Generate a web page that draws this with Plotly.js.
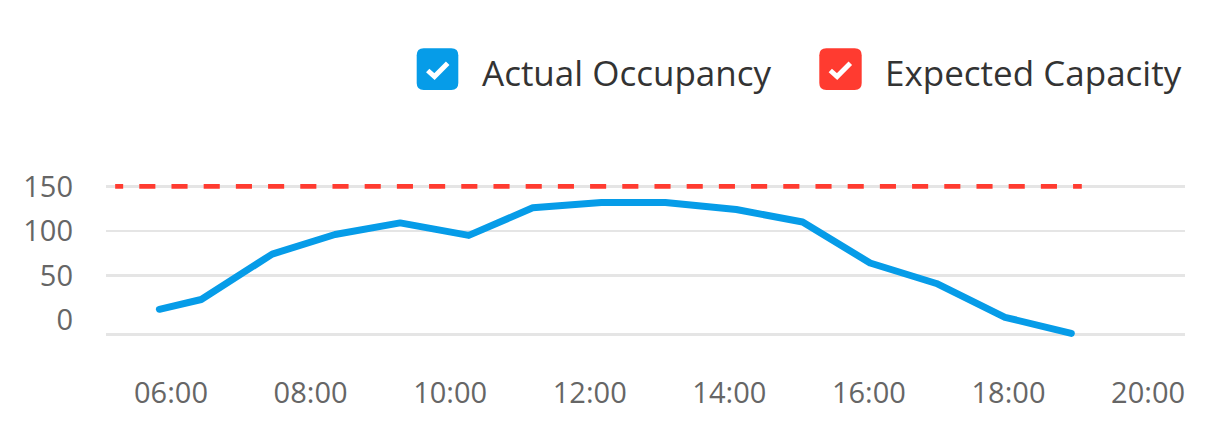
<!DOCTYPE html>
<html>
<head>
<meta charset="utf-8">
<script src="https://cdn.plot.ly/plotly-3.0.1.min.js"></script>
<style>
  html, body { margin: 0; padding: 0; background: #fff; }
  #chart { width: 1231px; height: 448px; }
  .scatterlayer .trace:first-child .js-line { stroke-linecap: round; stroke-linejoin: round; }
</style>
</head>
<body>
<div id="chart"></div>
<script>
// ---- data ----
const day = '2024-01-01 ';
const occupancyTimes = ['05:50', '06:26', '07:27', '08:21', '09:17', '10:16', '11:11', '12:10', '13:05', '14:06', '15:03', '16:01', '16:58', '17:57', '18:54'];
const occupancyValues = [12, 23, 74, 96, 109, 95, 126, 132, 132, 124, 110, 64, 41, 3, -15];
const capacityTimes = ['05:12', '19:03'];
const capacityValues = [150, 150];
const yTickVals = [-16, 0, 50, 100, 150];
const yTickText = ['', '0', '50', '100', '150'];
const seriesNames = ['Actual Occupancy', 'Expected Capacity'];

// ---- styles ----
const BLUE = '#069CE8';
const RED = '#FF3B30';
const FONT = '"Open Sans", "Noto Sans", sans-serif';

// plot area in pixels (for legend placement)
const L = 106, R = 1185, T = 150, B = 337;
const W = R - L, H = B - T;
const px = x => (x - L) / W;
const py = y => (B - y) / H;

function roundRect(x0, y0, x1, y1, r) {
  const p = (x, y) => px(x) + ',' + py(y);
  return 'M' + p(x0 + r, y0) + ' L' + p(x1 - r, y0) + ' Q' + p(x1, y0) + ' ' + p(x1, y0 + r) +
         ' L' + p(x1, y1 - r) + ' Q' + p(x1, y1) + ' ' + p(x1 - r, y1) +
         ' L' + p(x0 + r, y1) + ' Q' + p(x0, y1) + ' ' + p(x0, y1 - r) +
         ' L' + p(x0, y0 + r) + ' Q' + p(x0, y0) + ' ' + p(x0 + r, y0) + ' Z';
}
function check(dx) {
  const p = (x, y) => px(x + dx) + ',' + py(y);
  return 'M' + p(427.7, 70.5) + ' L' + p(434.5, 76.5) + ' L' + p(447.7, 63.3);
}

const dashParts = ['8px'];
for (let i = 0; i < 64; i++) dashParts.push('16.1px');
const capDash = dashParts.join(',');

const traces = [
  {
    x: occupancyTimes.map(t => day + t),
    y: occupancyValues,
    name: seriesNames[0],
    type: 'scatter',
    mode: 'lines',
    line: { color: BLUE, width: 7 },
    hoverinfo: 'skip'
  },
  {
    x: capacityTimes.map(t => day + t),
    y: capacityValues,
    name: seriesNames[1],
    type: 'scatter',
    mode: 'lines',
    line: { color: RED, width: 4.6, dash: capDash },
    hoverinfo: 'skip'
  }
];

const boxes = [
  { x0: 416.7, x1: 458.3, color: BLUE, dx: 0, tx: 480 },
  { x0: 819.3, x1: 861.7, color: RED, dx: 402.6, tx: 883 }
];

const shapes = [];
const annotations = [];
boxes.forEach((b, i) => {
  shapes.push({
    type: 'path', xref: 'paper', yref: 'paper',
    path: roundRect(b.x0, 48.3, b.x1, 90, 7),
    fillcolor: b.color, line: { width: 0 }, layer: 'above'
  });
  shapes.push({
    type: 'path', xref: 'paper', yref: 'paper',
    path: check(b.dx),
    line: { color: '#ffffff', width: 5 }, layer: 'above'
  });
  annotations.push({
    xref: 'paper', yref: 'paper', x: px(b.tx), y: py(72),
    xanchor: 'left', yanchor: 'middle', showarrow: false,
    text: seriesNames[i],
    font: { family: FONT, size: 35, color: '#333333' }
  });
});

const layout = {
  width: 1231, height: 448,
  margin: { l: L, r: 1231 - R, t: T, b: 448 - B, pad: 0 },
  paper_bgcolor: '#ffffff', plot_bgcolor: '#ffffff',
  showlegend: false,
  xaxis: {
    type: 'date',
    range: [day + '05:04:07', day + '20:31:44'],
    tick0: day + '06:00', dtick: 2 * 3600 * 1000,
    tickformat: '%H:%M',
    showgrid: false, zeroline: false, showline: false,
    ticks: '', ticklabelstandoff: 36,
    tickfont: { family: FONT, size: 29, color: '#666666' },
    fixedrange: true
  },
  yaxis: {
    range: [-19.09, 190.86],
    tickvals: yTickVals, ticktext: yTickText,
    showgrid: true, gridcolor: '#e5e5e5', gridwidth: 2.6,
    zeroline: true, zerolinecolor: '#ffffff', zerolinewidth: 4,
    showline: false, ticks: '', ticklabelstandoff: 32,
    tickfont: { family: FONT, size: 29, color: '#666666' },
    fixedrange: true
  },
  shapes: shapes,
  annotations: annotations
};

Plotly.newPlot('chart', traces, layout, { displayModeBar: false, staticPlot: true });
</script>
</body>
</html>
